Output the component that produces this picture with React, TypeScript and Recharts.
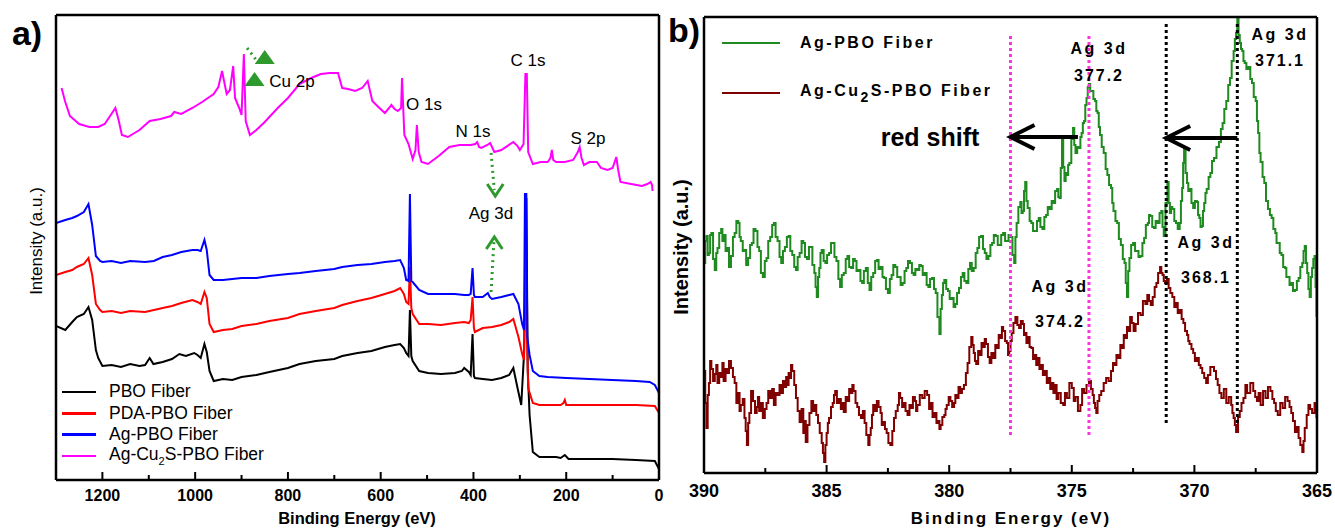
import React from "react";
import { LineChart, Line, XAxis, YAxis, ReferenceLine, ReferenceDot } from "recharts";

type Pt = [number, number];

// ---- panel a: survey spectra (binding energy eV, intensity a.u.)
const surveyTicks = [0, 100, 200, 300, 400, 500, 600, 700, 800, 900, 1000, 1100, 1200];
const surveyMajor = [0, 200, 400, 600, 800, 1000, 1200];

const pboFiber: Pt[] = [
  [1300, 154], [1280, 150], [1265, 158], [1255, 163], [1240, 166], [1230, 173], [1222, 160], [1214, 130],
  [1209, 122], [1200, 114], [1180, 115], [1160, 113], [1140, 116], [1120, 114], [1108, 115], [1098, 122],
  [1090, 116], [1070, 118], [1050, 121], [1034, 126], [1020, 124], [1002, 127], [995, 125], [988, 122],
  [980, 136], [975, 128], [969, 109], [960, 99], [940, 101], [920, 100], [900, 103], [868, 105], [840, 108],
  [800, 112], [775, 116], [740, 119], [700, 121], [683, 124], [650, 127], [620, 129], [591, 133], [570, 135],
  [558, 136], [550, 132], [545, 127], [540, 124], [537, 170], [534, 124], [531, 119], [517, 109], [498, 107],
  [470, 106], [440, 107], [425, 109], [420, 112], [410, 108], [406, 105], [402, 146], [399, 104], [397, 102],
  [380, 101], [360, 100], [340, 102], [323, 105], [314, 112], [305, 92], [297, 75], [291, 126], [288, 200],
  [286, 282], [283, 110], [279, 65], [272, 28], [258, 23], [240, 23], [222, 23], [212, 22], [203, 25],
  [195, 21], [150, 21], [101, 21], [50, 20], [9, 19], [0, 11],
];

const pdaPboFiber: Pt[] = [
  [1300, 205], [1280, 208], [1265, 210], [1255, 213], [1240, 216], [1230, 222], [1222, 205], [1214, 176],
  [1205, 170], [1200, 168], [1180, 169], [1160, 167], [1140, 169], [1108, 168], [1089, 170], [1070, 172],
  [1050, 174], [1030, 177], [1006, 180], [995, 178], [988, 176], [980, 188], [975, 182], [969, 156],
  [960, 148], [940, 150], [920, 151], [900, 154], [868, 156], [840, 159], [800, 162], [775, 166], [740, 169],
  [700, 172], [683, 175], [650, 179], [620, 182], [591, 186], [570, 189], [558, 192], [550, 186], [545, 178],
  [540, 176], [537, 213], [534, 172], [531, 166], [517, 156], [498, 156], [470, 155], [440, 157], [420, 158],
  [410, 157], [406, 160], [402, 183], [399, 152], [397, 148], [380, 152], [360, 153], [340, 155], [323, 158],
  [314, 161], [303, 143], [295, 126], [291, 120], [289, 200], [288, 283], [286, 170], [282, 92], [272, 77],
  [258, 75], [240, 75], [212, 75], [206, 77], [203, 80], [200, 75], [150, 75], [101, 75], [50, 75], [9, 74],
  [0, 67],
];

const agPboFiber: Pt[] = [
  [1300, 257], [1280, 260], [1265, 262], [1255, 264], [1240, 268], [1230, 276], [1222, 255], [1214, 224],
  [1205, 219], [1200, 218], [1180, 219], [1160, 217], [1140, 219], [1108, 218], [1089, 219], [1070, 223],
  [1050, 225], [1030, 228], [1006, 230], [995, 230], [988, 229], [980, 240], [975, 230], [969, 205],
  [960, 200], [940, 200], [920, 201], [900, 202], [868, 202], [840, 204], [800, 206], [775, 207], [740, 209],
  [700, 211], [683, 213], [650, 215], [620, 216], [591, 218], [570, 219], [558, 220], [550, 212], [545, 200],
  [540, 199], [537, 286], [534, 199], [531, 198], [517, 190], [498, 186], [470, 186], [440, 186], [420, 185],
  [410, 185], [406, 186], [402, 212], [399, 185], [397, 183], [380, 183], [369, 187], [365, 183], [360, 181],
  [340, 183], [323, 185], [314, 186], [303, 176], [295, 156], [291, 150], [289, 286], [286, 286], [284, 143],
  [279, 125], [272, 109], [258, 104], [240, 103], [200, 102], [150, 101], [101, 100], [50, 99], [20, 98],
  [9, 95], [0, 87],
];

const agCu2sPboFiber: Pt[] = [
  [1288, 392], [1280, 378], [1270, 364], [1265, 362], [1250, 356], [1228, 353], [1209, 353], [1195, 356],
  [1182, 365], [1172, 372], [1165, 360], [1158, 345], [1145, 343], [1120, 350], [1098, 359], [1075, 361],
  [1052, 364], [1045, 368], [1030, 366], [1006, 372], [985, 378], [960, 386], [950, 393], [942, 409],
  [936, 395], [932, 386], [925, 390], [918, 414], [914, 382], [905, 372], [900, 365], [895, 426], [891, 359],
  [882, 345], [868, 350], [850, 358], [822, 372], [800, 382], [775, 396], [750, 402], [729, 406], [710, 407],
  [692, 407], [683, 392], [670, 391], [655, 389], [640, 392], [628, 399], [618, 379], [605, 373], [591, 367],
  [580, 373], [577, 375], [570, 371], [563, 369], [556, 372], [554, 402], [549, 345], [540, 336], [531, 321],
  [525, 330], [522, 355], [518, 328], [512, 318], [498, 316], [475, 324], [452, 333], [430, 335], [406, 335],
  [396, 336], [392, 338], [388, 333], [383, 332], [370, 335], [364, 337], [355, 328], [340, 330], [314, 338],
  [305, 334], [300, 330], [292, 336], [288, 406], [285, 406], [282, 328], [272, 316], [255, 318], [240, 318],
  [234, 322], [231, 330], [228, 320], [222, 318], [203, 318], [185, 320], [175, 328], [171, 333], [167, 322],
  [162, 315], [150, 318], [134, 318], [125, 312], [111, 310], [100, 312], [92, 323], [88, 310], [83, 298],
  [60, 296], [37, 294], [25, 296], [18, 298], [15, 295], [14, 289],
];

// ---- panel b: Ag 3d high resolution
const agTicks = [365, 367.5, 370, 372.5, 375, 377.5, 380, 382.5, 385, 387.5, 390];
const agMajor = [365, 370, 375, 380, 385, 390];

const agPbo3d: Pt[] = [
  [390, 210], [389.95, 232], [389.9, 237], [389.85, 218], [389.8, 220], [389.75, 238], [389.7, 240], [389.63, 214],
  [389.56, 203], [389.5, 220], [389.45, 225], [389.38, 240], [389.3, 244], [389.25, 232], [389.2, 238], [389.12, 222],
  [389.05, 225], [388.98, 206], [388.9, 217], [388.82, 236], [388.75, 240], [388.68, 252], [388.6, 250], [388.55, 236],
  [388.5, 232], [388.42, 222], [388.35, 223], [388.28, 208], [388.2, 215], [388.12, 228], [388.05, 230], [387.98, 244],
  [387.9, 242], [387.82, 226], [387.75, 222], [387.68, 200], [387.6, 196], [387.52, 212], [387.45, 215], [387.38, 232],
  [387.3, 236], [387.22, 248], [387.15, 250], [387.08, 236], [387, 232], [386.92, 216], [386.85, 210], [386.78, 222],
  [386.7, 226], [386.62, 236], [386.55, 237], [386.48, 222], [386.4, 218], [386.32, 206], [386.25, 203], [386.18, 216],
  [386.1, 220], [386.02, 232], [385.95, 230], [385.88, 216], [385.8, 214], [385.72, 226], [385.65, 226], [385.58, 208],
  [385.5, 200], [385.45, 186], [385.4, 176], [385.35, 196], [385.3, 205], [385.25, 220], [385.2, 223], [385.12, 212],
  [385.05, 210], [384.98, 218], [384.9, 220], [384.82, 230], [384.75, 230], [384.68, 216], [384.6, 212], [384.52, 194],
  [384.45, 186], [384.38, 198], [384.3, 200], [384.22, 214], [384.15, 217], [384.08, 206], [384, 205], [383.92, 214],
  [383.85, 212], [383.78, 202], [383.7, 203], [383.62, 192], [383.55, 190], [383.48, 202], [383.4, 205], [383.32, 190],
  [383.25, 183], [383.18, 196], [383.1, 200], [383.02, 212], [382.95, 213], [382.88, 204], [382.8, 206], [382.72, 196],
  [382.65, 195], [382.58, 184], [382.5, 180], [382.42, 194], [382.35, 198], [382.28, 208], [382.2, 206], [382.12, 196],
  [382.05, 196], [381.98, 188], [381.9, 190], [381.82, 202], [381.75, 205], [381.68, 212], [381.6, 210], [381.52, 200],
  [381.45, 198], [381.38, 204], [381.3, 203], [381.22, 208], [381.15, 207], [381.08, 198], [381, 200], [380.92, 188],
  [380.85, 186], [380.78, 194], [380.7, 195], [380.62, 184], [380.55, 180], [380.48, 156], [380.4, 139], [380.35, 164],
  [380.3, 178], [380.25, 190], [380.2, 193], [380.12, 184], [380.05, 182], [379.98, 174], [379.9, 175], [379.82, 166],
  [379.75, 169], [379.68, 180], [379.6, 185], [379.52, 196], [379.45, 200], [379.38, 192], [379.3, 190], [379.22, 204],
  [379.15, 210], [379.08, 202], [379, 205], [378.92, 220], [378.85, 225], [378.78, 236], [378.7, 237], [378.62, 224],
  [378.55, 220], [378.48, 214], [378.4, 217], [378.32, 228], [378.25, 230], [378.18, 238], [378.1, 237], [378.02, 228],
  [377.95, 228], [377.88, 238], [377.8, 240], [377.72, 232], [377.65, 232], [377.58, 238], [377.5, 236], [377.42, 218],
  [377.35, 210], [377.3, 236], [377.25, 250], [377.18, 266], [377.1, 271], [377.05, 260], [377, 262], [376.95, 282],
  [376.9, 291], [376.85, 272], [376.8, 265], [376.72, 252], [376.65, 250], [376.58, 242], [376.5, 242], [376.42, 252],
  [376.35, 255], [376.28, 246], [376.2, 244], [376.12, 256], [376.05, 258], [375.98, 266], [375.9, 264], [375.82, 272],
  [375.75, 270], [375.68, 282], [375.6, 284], [375.55, 276], [375.5, 275], [375.45, 305], [375.4, 335], [375.35, 306],
  [375.3, 292], [375.25, 300], [375.2, 298], [375.15, 308], [375.1, 310], [375.02, 334], [374.95, 345], [374.9, 328],
  [374.85, 320], [374.78, 326], [374.7, 325], [374.65, 336], [374.6, 340], [374.55, 350], [374.5, 352], [374.45, 368],
  [374.4, 375], [374.35, 386], [374.3, 389], [374.25, 382], [374.2, 382], [374.12, 374], [374.05, 372], [374, 362],
  [373.95, 360], [373.9, 346], [373.85, 338], [373.78, 326], [373.7, 320], [373.62, 304], [373.55, 298], [373.48, 288],
  [373.4, 285], [373.35, 270], [373.3, 262], [373.22, 252], [373.15, 250], [373.08, 234], [373, 228], [372.92, 214],
  [372.85, 210], [372.8, 190], [372.75, 176], [372.7, 202], [372.65, 215], [372.58, 228], [372.5, 230], [372.42, 222],
  [372.35, 222], [372.28, 216], [372.2, 217], [372.12, 230], [372.05, 235], [371.98, 248], [371.9, 250], [371.85, 258],
  [371.8, 257], [371.72, 246], [371.65, 245], [371.58, 252], [371.5, 250], [371.42, 260], [371.35, 262], [371.3, 246],
  [371.25, 237], [371.18, 270], [371.1, 291], [371.05, 270], [371, 260], [370.95, 266], [370.9, 264], [370.82, 252],
  [370.75, 250], [370.68, 244], [370.6, 250], [370.55, 272], [370.5, 285], [370.46, 310], [370.42, 325], [370.36, 300],
  [370.3, 290], [370.25, 282], [370.2, 284], [370.12, 270], [370.05, 265], [369.98, 272], [369.9, 271], [369.85, 258],
  [369.8, 255], [369.75, 246], [369.7, 247], [369.65, 262], [369.6, 270], [369.55, 280], [369.5, 284], [369.42, 296],
  [369.35, 300], [369.28, 312], [369.2, 315], [369.1, 326], [369, 331], [368.92, 344], [368.85, 350], [368.78, 364],
  [368.7, 372], [368.62, 388], [368.55, 395], [368.48, 412], [368.4, 422], [368.35, 434], [368.3, 440], [368.25, 454],
  [368.2, 438], [368.15, 430], [368.1, 424], [368.05, 422], [368, 412], [367.95, 410], [367.88, 404], [367.8, 406],
  [367.72, 394], [367.65, 390], [367.58, 376], [367.5, 372], [367.45, 352], [367.4, 340], [367.35, 320], [367.3, 311],
  [367.22, 296], [367.15, 290], [367.08, 272], [367, 264], [366.92, 258], [366.85, 255], [366.78, 244], [366.7, 240],
  [366.65, 230], [366.6, 230], [366.52, 220], [366.45, 218], [366.38, 206], [366.3, 205], [366.25, 196], [366.2, 196],
  [366.12, 188], [366.05, 190], [365.98, 182], [365.9, 183], [365.82, 192], [365.75, 195], [365.68, 206], [365.6, 210],
  [365.55, 222], [365.5, 227], [365.45, 210], [365.4, 200], [365.35, 184], [365.3, 176], [365.25, 196], [365.2, 205],
  [365.15, 214], [365.1, 217], [365.06, 186], [365.02, 156],
];

const agCu2sPbo3d: Pt[] = [
  [390, 102], [389.95, 70], [389.9, 45], [389.85, 78], [389.8, 90], [389.75, 112], [389.7, 104], [389.63, 92],
  [389.56, 99], [389.5, 108], [389.45, 90], [389.38, 100], [389.3, 96], [389.25, 110], [389.2, 92], [389.12, 104],
  [389.05, 100], [388.98, 112], [388.9, 105], [388.82, 96], [388.75, 90], [388.68, 70], [388.6, 80], [388.55, 62],
  [388.5, 68], [388.42, 74], [388.35, 55], [388.3, 42], [388.25, 28], [388.2, 50], [388.15, 60], [388.08, 82],
  [388, 72], [387.92, 60], [387.85, 66], [387.8, 76], [387.75, 62], [387.68, 70], [387.6, 55], [387.52, 64],
  [387.45, 70], [387.38, 82], [387.3, 75], [387.22, 84], [387.15, 68], [387.08, 80], [387, 78], [386.92, 88],
  [386.85, 80], [386.78, 92], [386.7, 86], [386.65, 96], [386.6, 88], [386.55, 100], [386.5, 95], [386.45, 108],
  [386.4, 102], [386.32, 88], [386.25, 75], [386.18, 62], [386.1, 51], [386.02, 64], [385.95, 40], [385.9, 52],
  [385.85, 31], [385.78, 48], [385.7, 60], [385.62, 72], [385.55, 62], [385.5, 68], [385.42, 58], [385.35, 50],
  [385.28, 40], [385.2, 30], [385.15, 20], [385.1, 11], [385.05, 28], [385, 40], [384.95, 50], [384.9, 55],
  [384.82, 66], [384.75, 70], [384.7, 78], [384.65, 82], [384.58, 70], [384.5, 74], [384.42, 64], [384.35, 70],
  [384.3, 61], [384.22, 76], [384.15, 72], [384.08, 84], [384, 80], [383.95, 88], [383.9, 82], [383.82, 70],
  [383.75, 66], [383.68, 58], [383.6, 55], [383.52, 62], [383.45, 50], [383.38, 38], [383.3, 28], [383.25, 38],
  [383.2, 45], [383.15, 58], [383.1, 68], [383.02, 62], [382.95, 72], [382.88, 66], [382.8, 60], [382.75, 48],
  [382.7, 51], [382.62, 44], [382.55, 40], [382.48, 30], [382.4, 28], [382.32, 42], [382.25, 55], [382.18, 62],
  [382.1, 68], [382.05, 80], [382, 75], [381.92, 66], [381.85, 70], [381.78, 62], [381.7, 58], [381.62, 68],
  [381.55, 65], [381.48, 76], [381.4, 72], [381.35, 62], [381.3, 68], [381.2, 78], [381.1, 75], [381, 82],
  [380.9, 78], [380.82, 64], [380.75, 70], [380.68, 56], [380.6, 60], [380.52, 50], [380.45, 52], [380.4, 44],
  [380.35, 48], [380.28, 56], [380.2, 58], [380.15, 64], [380.1, 68], [380.02, 76], [379.95, 72], [379.88, 66],
  [379.8, 70], [379.75, 78], [379.7, 75], [379.62, 86], [379.55, 80], [379.48, 84], [379.4, 88], [379.32, 100],
  [379.25, 110], [379.18, 126], [379.1, 136], [379.05, 128], [379, 120], [378.95, 112], [378.9, 109], [378.82, 122],
  [378.75, 118], [378.68, 130], [378.6, 126], [378.55, 134], [378.5, 129], [378.42, 116], [378.35, 110], [378.28, 120],
  [378.2, 115], [378.12, 128], [378.05, 125], [377.98, 138], [377.9, 135], [377.85, 146], [377.8, 142], [377.72, 132],
  [377.65, 130], [377.6, 118], [377.55, 122], [377.5, 132], [377.45, 140], [377.38, 150], [377.3, 156], [377.22, 148],
  [377.15, 145], [377.08, 152], [377, 149], [376.95, 138], [376.9, 140], [376.85, 130], [376.8, 136], [376.72, 126],
  [376.65, 125], [376.58, 114], [376.5, 118], [376.45, 108], [376.4, 115], [376.32, 104], [376.25, 108], [376.18, 98],
  [376.1, 102], [376.02, 90], [375.95, 95], [375.88, 84], [375.8, 90], [375.75, 80], [375.7, 88], [375.62, 74],
  [375.55, 80], [375.45, 70], [375.35, 68], [375.28, 80], [375.2, 75], [375.1, 90], [375, 85], [374.92, 72],
  [374.85, 76], [374.75, 62], [374.65, 68], [374.58, 84], [374.5, 80], [374.4, 88], [374.3, 92], [374.22, 84],
  [374.15, 78], [374.1, 70], [374.05, 65], [374, 60], [373.95, 72], [373.88, 78], [373.8, 82], [373.7, 90],
  [373.6, 95], [373.5, 92], [373.4, 102], [373.32, 110], [373.25, 108], [373.18, 118], [373.1, 115], [373.02, 128],
  [372.95, 125], [372.88, 138], [372.8, 135], [372.75, 146], [372.7, 142], [372.62, 156], [372.55, 150], [372.48, 142],
  [372.4, 149], [372.3, 160], [372.2, 158], [372.1, 172], [372, 169], [371.92, 178], [371.85, 172], [371.78, 168],
  [371.7, 176], [371.62, 186], [371.55, 190], [371.48, 200], [371.4, 206], [371.35, 200], [371.3, 198], [371.25, 192],
  [371.2, 190], [371.12, 194], [371.05, 185], [370.98, 180], [370.9, 176], [370.82, 166], [370.75, 170], [370.68, 160],
  [370.6, 163], [370.52, 154], [370.45, 150], [370.38, 142], [370.3, 138], [370.25, 132], [370.2, 129], [370.12, 124],
  [370.05, 120], [369.98, 112], [369.9, 115], [369.82, 108], [369.75, 105], [369.68, 100], [369.6, 95], [369.52, 90],
  [369.45, 98], [369.35, 106], [369.2, 102], [369.12, 94], [369.05, 88], [368.98, 80], [368.9, 75], [368.8, 84],
  [368.7, 70], [368.6, 76], [368.5, 68], [368.45, 60], [368.4, 55], [368.35, 48], [368.3, 41], [368.22, 56],
  [368.15, 62], [368.08, 70], [368, 75], [367.92, 88], [367.85, 80], [367.72, 90], [367.6, 82], [367.52, 76],
  [367.45, 72], [367.38, 80], [367.3, 68], [367.2, 82], [367.1, 75], [367, 86], [366.9, 82], [366.82, 74],
  [366.75, 70], [366.68, 62], [366.6, 58], [366.5, 70], [366.4, 65], [366.3, 76], [366.2, 72], [366.12, 66],
  [366.05, 60], [365.98, 52], [365.9, 41], [365.82, 46], [365.75, 35], [365.68, 28], [365.6, 21], [365.55, 32],
  [365.5, 45], [365.42, 58], [365.35, 68], [365.28, 64], [365.2, 60], [365.1, 70], [365.02, 55],
];

// peak positions marked with dotted lines
const magentaLines = [377.5, 374.3];
const blackLines = [371.15, 368.25];

const FONT = "'Liberation Sans', Arial, sans-serif";

const rows = (pts: Pt[]) => pts.map(([e, v]) => ({ e, v }));

function makeTick(major: number[], dy: number, size: number) {
  return (props: any) => {
    const { x, y, payload } = props;
    const isMajor = major.includes(payload.value);
    return (
      <g>
        <line x1={x} x2={x} y1={y} y2={y - (isMajor ? 8 : 5)} stroke="#000" strokeWidth={2} />
        {isMajor && (
          <text x={x} y={y + dy} textAnchor="middle" fontFamily={FONT} fontWeight="bold" fontSize={size} fill="#000">
            {payload.value}
          </text>
        )}
      </g>
    );
  };
}

// open arrow head drawn at a data point
const chevron = (dir: "up" | "down" | "left", color: string, w: number) => (p: any) => {
  const { cx, cy } = p;
  let d = "";
  if (dir === "down") d = `M${cx - 8},${cy - 12} L${cx},${cy} L${cx + 8},${cy - 12}`;
  if (dir === "up") d = `M${cx - 8},${cy + 12} L${cx},${cy} L${cx + 8},${cy + 12}`;
  if (dir === "left") d = `M${cx + 24},${cy - 12} L${cx},${cy} L${cx + 24},${cy + 12}`;
  return <path d={d} fill="none" stroke={color} strokeWidth={w} />;
};

const triangle = (color: string) => (p: any) => {
  const { cx, cy } = p;
  return <path d={`M${cx - 10},${cy + 7} L${cx + 10},${cy + 7} L${cx},${cy - 7} Z`} fill={color} />;
};

const boxLine = { stroke: "#000", strokeWidth: 2.5 };

function T({ x, y, children, size = 15, bold = false, spacing = 0, color = "#000", rotate = 0 }: any) {
  return (
    <div
      style={{
        position: "absolute",
        left: x,
        top: y,
        transform: `translate(-50%, -50%) rotate(${rotate}deg)`,
        fontFamily: FONT,
        fontSize: size,
        fontWeight: bold ? "bold" : "normal",
        letterSpacing: spacing,
        color,
        whiteSpace: "nowrap",
        lineHeight: 1,
      }}
    >
      {children}
    </div>
  );
}

function SurveyPanel() {
  return (
    <LineChart width={665} height={529} margin={{ top: 14, right: 5, bottom: 48, left: 55 }}>
      <XAxis
        dataKey="e"
        type="number"
        domain={[0, 1300]}
        reversed
        ticks={surveyTicks}
        interval={0}
        height={1}
        tickSize={0}
        tickMargin={0}
        axisLine={boxLine}
        tickLine={false}
        tick={makeTick(surveyMajor, 21, 16)}
        allowDataOverflow
      />
      <XAxis xAxisId="top" orientation="top" type="number" domain={[0, 1300]} height={1} tick={false} tickLine={false} axisLine={boxLine} />
      <YAxis type="number" domain={[0, 465]} width={1} tick={false} tickLine={false} axisLine={boxLine} allowDataOverflow />
      <YAxis yAxisId="r" orientation="right" type="number" domain={[0, 465]} width={1} tick={false} tickLine={false} axisLine={boxLine} />
      <Line data={rows(pboFiber)} dataKey="v" stroke="#000000" strokeWidth={2} dot={false} isAnimationActive={false} />
      <Line data={rows(pdaPboFiber)} dataKey="v" stroke="#ff0000" strokeWidth={2} dot={false} isAnimationActive={false} />
      <Line data={rows(agPboFiber)} dataKey="v" stroke="#0000ff" strokeWidth={2} dot={false} isAnimationActive={false} />
      <Line data={rows(agCu2sPboFiber)} dataKey="v" stroke="#ff00ff" strokeWidth={2} dot={false} isAnimationActive={false} />
      {/* green dotted arrows marking Ag 3d */}
      <ReferenceLine segment={[{ x: 362, y: 327 }, { x: 355, y: 290 }]} stroke="#2e9a2e" strokeWidth={3} strokeDasharray="2 4" />
      <ReferenceDot x={353} y={284} r={0} shape={chevron("down", "#2e9a2e", 3)} />
      <ReferenceLine segment={[{ x: 362, y: 188 }, { x: 356, y: 238 }]} stroke="#2e9a2e" strokeWidth={3} strokeDasharray="2 4" />
      <ReferenceDot x={355} y={243} r={0} shape={chevron("up", "#2e9a2e", 3)} />
      {/* Cu 2p markers */}
      <ReferenceLine segment={[{ x: 888, y: 432 }, { x: 865, y: 418 }]} stroke="#2e9a2e" strokeWidth={3} strokeDasharray="2 4" />
      <ReferenceDot x={850} y={423} r={0} shape={triangle("#2e9a2e")} />
      <ReferenceDot x={872} y={401} r={0} shape={triangle("#2e9a2e")} />
    </LineChart>
  );
}

function AgPanel() {
  return (
    <LineChart width={670} height={529} margin={{ top: 16, right: 17, bottom: 55, left: 38 }}>
      <XAxis
        dataKey="e"
        type="number"
        domain={[365, 390]}
        reversed
        ticks={agTicks}
        interval={0}
        height={1}
        tickSize={0}
        tickMargin={0}
        axisLine={boxLine}
        tickLine={false}
        tick={makeTick(agMajor, 24, 18)}
        allowDataOverflow
      />
      <XAxis xAxisId="top" orientation="top" type="number" domain={[365, 390]} height={1} tick={false} tickLine={false} axisLine={boxLine} />
      <YAxis type="number" domain={[0, 456]} width={1} tick={false} tickLine={false} axisLine={boxLine} allowDataOverflow />
      <YAxis yAxisId="r" orientation="right" type="number" domain={[0, 456]} width={1} tick={false} tickLine={false} axisLine={boxLine} />
      <Line data={rows(agPbo3d)} dataKey="v" type="stepAfter" stroke="#1f8a1f" strokeWidth={2} dot={false} isAnimationActive={false} />
      <Line data={rows(agCu2sPbo3d)} dataKey="v" type="stepAfter" stroke="#800000" strokeWidth={2} dot={false} isAnimationActive={false} />
      {magentaLines.map((e) => (
        <ReferenceLine key={e} segment={[{ x: e, y: 38 }, { x: e, y: 438 }]} stroke="#ff33dd" strokeWidth={3} strokeDasharray="3 3" />
      ))}
      {blackLines.map((e) => (
        <ReferenceLine key={e} segment={[{ x: e, y: 50 }, { x: e, y: 451 }]} stroke="#000" strokeWidth={3} strokeDasharray="3 3" />
      ))}
      {/* red shift arrows */}
      <ReferenceLine segment={[{ x: 374.75, y: 336 }, { x: 377.45, y: 336 }]} stroke="#000" strokeWidth={4} />
      <ReferenceDot x={377.5} y={336} r={0} shape={chevron("left", "#000", 4)} />
      <ReferenceLine segment={[{ x: 368.25, y: 335 }, { x: 371.1, y: 335 }]} stroke="#000" strokeWidth={4} />
      <ReferenceDot x={371.15} y={335} r={0} shape={chevron("left", "#000", 4)} />
    </LineChart>
  );
}

export default function App() {
  return (
    <div style={{ position: "absolute", left: 0, top: 0, width: 1335, height: 529, background: "#fff", overflow: "hidden" }}>
      <div style={{ position: "absolute", left: 0, top: 0 }}>
        <SurveyPanel />
      </div>
      <div style={{ position: "absolute", left: 665, top: 0 }}>
        <AgPanel />
      </div>

      {/* panel a texts */}
      <T x={27} y={33} size={34} bold>a)</T>
      <T x={36} y={241} size={17} rotate={-90}>Intensity (a.u.)</T>
      <T x={357} y={518} size={16.5} bold>Binding Energy (eV)</T>
      <T x={528} y={60} size={17}>C 1s</T>
      <T x={424} y={104} size={17}>O 1s</T>
      <T x={473} y={131} size={17}>N 1s</T>
      <T x={588} y={138} size={17}>S 2p</T>
      <T x={292} y={81} size={17}>Cu 2p</T>
      <T x={491} y={213} size={17}>Ag 3d</T>
      {[
        { c: "#000000", t: <>PBO Fiber</> },
        { c: "#ff0000", t: <>PDA-PBO Fiber</> },
        { c: "#0000ff", t: <>Ag-PBO Fiber</> },
        { c: "#ff00ff", t: <>Ag-Cu<sub style={{ fontSize: 11 }}>2</sub>S-PBO Fiber</> },
      ].map((r, i) => (
        <div key={i} style={{ position: "absolute", left: 62, top: 392 + i * 21.3 - 9, height: 18, display: "flex", alignItems: "center" }}>
          <div style={{ width: 34, height: 2.5, background: r.c }} />
          <div style={{ marginLeft: 13, fontFamily: FONT, fontSize: 17.5, lineHeight: 1, whiteSpace: "nowrap" }}>{r.t}</div>
        </div>
      ))}

      {/* panel b texts */}
      <T x={684} y={30} size={34} bold>b)</T>
      <T x={681} y={247} size={20} bold rotate={-90}>Intensity (a.u.)</T>
      <T x={1011} y={518} size={17} bold spacing={2}>Binding Energy (eV)</T>
      <T x={930} y={137} size={25} bold>red shift</T>
      <T x={1099} y={49} size={16} bold spacing={2.5}>Ag 3d</T>
      <T x={1099} y={76} size={16} bold spacing={2}>377.2</T>
      <T x={1280} y={35} size={16} bold spacing={2.5}>Ag 3d</T>
      <T x={1280} y={61} size={16} bold spacing={2}>371.1</T>
      <T x={1206} y={243} size={16} bold spacing={2.5}>Ag 3d</T>
      <T x={1206} y={278} size={16} bold spacing={2}>368.1</T>
      <T x={1060} y={287} size={16} bold spacing={2.5}>Ag 3d</T>
      <T x={1060} y={322} size={16} bold spacing={2}>374.2</T>
      {[
        { c: "#1f8a1f", t: <>Ag-PBO Fiber</>, y: 43 },
        { c: "#800000", t: <>Ag-Cu<sub style={{ fontSize: 14, verticalAlign: -6 }}>2</sub>S-PBO Fiber</>, y: 93 },
      ].map((r, i) => (
        <div key={i} style={{ position: "absolute", left: 722, top: r.y - 9, height: 18, display: "flex", alignItems: "center" }}>
          <div style={{ width: 58, height: 2.5, background: r.c }} />
          <div style={{ marginLeft: 20, fontFamily: FONT, fontSize: 16, fontWeight: "bold", letterSpacing: 2.5, lineHeight: 1, whiteSpace: "nowrap" }}>{r.t}</div>
        </div>
      ))}
    </div>
  );
}
